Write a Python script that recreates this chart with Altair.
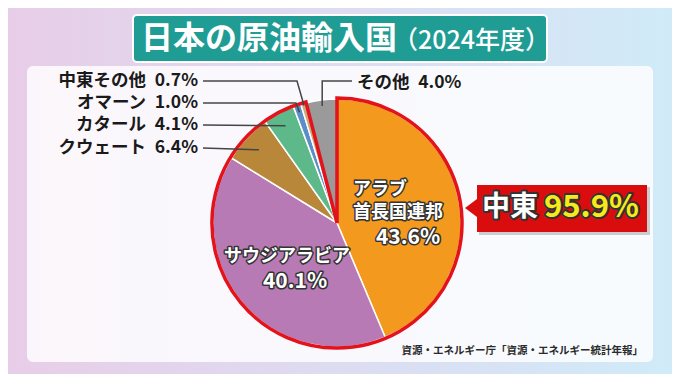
import math
import altair as alt
import pandas as pd

# ---------------- data ----------------
countries = ["アラブ首長国連邦", "サウジアラビア", "クウェート", "カタール", "オマーン", "中東その他", "その他"]
shares = [43.6, 40.1, 6.4, 4.1, 1.0, 0.7, 4.0]
slice_colors = ["#f39a1e", "#b87ab4", "#b8873a", "#5db98a", "#5b8ec8", "#c9aa7c", "#9a9a9a"]
region_label = "中東"
region_share = 95.9
title_main = "日本の原油輸入国"
title_sub = "（2024年度）"
source_text = "資源・エネルギー庁「資源・エネルギー統計年報」"

# ---------------- layout ----------------
W, H = 664, 366
OFF = 8
FONT = "Noto Sans CJK JP"
CXP, CYP, R = 337, 223, 124          # pie centre (page px) and radius
CX, CY = CXP - OFF, CYP - OFF
GAP = "\u2002"

total = sum(shares)
starts, acc = [], 0.0
for s in shares:
    starts.append(acc)
    acc += s
ends = [a + b for a, b in zip(starts, shares)]
mids = [a + b / 2 for a, b in zip(starts, shares)]


def polar(v, r):
    a = 2 * math.pi * v / total
    return (CXP + r * math.sin(a), CYP - r * math.cos(a))


def pct(v):
    return f"{v:.1f}%"


XS = dict(scale=None, axis=None)


def text_layer(rows, size, color, weight="bold", align="left", stroke=None, sw=0):
    df = pd.DataFrame([{"x": x - OFF, "y": y - OFF, "text": t} for x, y, t in rows])
    m = dict(font=FONT, fontSize=size, fontWeight=weight, align=align,
             baseline="middle", fill=color)
    if stroke:
        m.update(stroke=stroke, strokeWidth=sw, strokeJoin="round")
    return alt.Chart(df).mark_text(**m).encode(
        x=alt.X("x:Q", **XS), y=alt.Y("y:Q", **XS), text="text:N")


def rect_layer(x0, y0, x1, y1, **kw):
    return alt.Chart(pd.DataFrame({"a": [0]})).mark_rect(**kw).encode(
        x=alt.value(x0 - OFF), x2=alt.value(x1 - OFF),
        y=alt.value(y0 - OFF), y2=alt.value(y1 - OFF))


# ---------------- background ----------------
bg = rect_layer(OFF, OFF, W + OFF, H + OFF, fill=alt.LinearGradient(
    gradient="linear", x1=0, x2=1, y1=0, y2=0,
    stops=[alt.GradientStop(color="#e8cde8", offset=0),
           alt.GradientStop(color="#dddcf1", offset=0.5),
           alt.GradientStop(color="#d0ebf8", offset=1)]))
panel = rect_layer(27, 66, 653, 362, fill="white", opacity=0.82, cornerRadius=6)

# title banner
title_box = rect_layer(133, 15, 547, 62, fill="#1f9c94", stroke="white",
                       strokeWidth=2, cornerRadius=4)
title_t1 = text_layer([(141, 39, title_main)], 32, "white")
title_t2 = text_layer([(393, 41, title_sub)], 25, "white", weight=500)

# ---------------- pie ----------------
pie_df = pd.DataFrame({"country": countries, "share": shares, "start": starts,
                       "end": ends, "color": slice_colors})
theta_scale = alt.Scale(domain=[0, total], range=[0, 2 * math.pi])
pie = alt.Chart(pie_df).mark_arc(outerRadius=R, stroke="white", strokeWidth=1.5).encode(
    theta=alt.Theta("start:Q", scale=theta_scale, stack=None),
    theta2="end:Q",
    fill=alt.Fill("color:N", scale=None),
    x=alt.value(CX), y=alt.value(CY),
)

outline_df = pd.DataFrame({"start": [0.0], "end": [region_share]})
outline = alt.Chart(outline_df).mark_arc(
    outerRadius=R + 1, fillOpacity=0, stroke="#e3121b", strokeWidth=3.5,
    strokeJoin="miter").encode(
    theta=alt.Theta("start:Q", scale=theta_scale, stack=None),
    theta2="end:Q",
    x=alt.value(CX), y=alt.value(CY),
)

# ---------------- leader lines ----------------
line_specs = {
    5: [(203, 81), (297, 81), polar(mids[5], 122)],
    4: [(203, 103), (296, 103), polar(mids[4], 117)],
    3: [(203, 125), polar(mids[3], 110)],
    2: [(203, 148), polar(mids[2], 107)],
}
pe = polar(mids[6], 118)
line_specs[6] = [(352, 81), (pe[0], 81), pe]
lrows = []
for k, pts in line_specs.items():
    for j, (x, y) in enumerate(pts):
        lrows.append({"id": countries[k], "ord": j, "x": x - OFF, "y": y - OFF})
leaders = alt.Chart(pd.DataFrame(lrows)).mark_line(
    color="#454545", strokeWidth=1.5).encode(
    x=alt.X("x:Q", **XS), y=alt.Y("y:Q", **XS),
    detail="id:N", order="ord:Q")

# ---------------- labels ----------------
left_idx = [5, 4, 3, 2]
left_y = [81, 103, 125, 148]
left_labels = text_layer(
    [(198, y, f"{countries[i]}{GAP}{pct(shares[i])}") for i, y in zip(left_idx, left_y)],
    17.5, "#1a1a1a", align="right")
other_label = text_layer([(357, 83, f"{countries[6]}{GAP}{pct(shares[6])}")], 17.5, "#1a1a1a")

uae_name = countries[0]
inner_rows_small = [(353, 190, uae_name[:3]), (353, 213, uae_name[3:])]
inner_rows_center = [(287, 257, countries[1])]
inner_rows_big = [(408, 238, pct(shares[0])), (295, 282, pct(shares[1]))]
inner = [
    text_layer(inner_rows_small, 18, "#333", stroke="#333", sw=3),
    text_layer(inner_rows_center, 18, "#333", align="center", stroke="#333", sw=3),
    text_layer(inner_rows_big, 21, "#333", align="center", stroke="#333", sw=3),
    text_layer(inner_rows_small, 18, "white"),
    text_layer(inner_rows_center, 18, "white", align="center"),
    text_layer(inner_rows_big, 21, "white", align="center"),
]

# ---------------- callout ----------------
call_shadow = rect_layer(479, 187, 650, 235, fill="#000000", opacity=0.18)
call_box = rect_layer(477, 185, 647, 232, fill="#d90d0d")
pointer = alt.Chart(pd.DataFrame({"a": [0]})).mark_point(
    shape="M 1 -1.5 L -1 0 L 1 1.5 Z", size=144, filled=True, fill="#d90d0d",
    opacity=1, strokeWidth=0).encode(x=alt.value(471 - OFF), y=alt.value(208 - OFF))
call_t = [
    text_layer([(482, 208, region_label)], 28, "#333", stroke="#333", sw=4),
    text_layer([(544, 208, pct(region_share))], 31, "#333", stroke="#333", sw=4),
    text_layer([(482, 208, region_label)], 28, "white"),
    text_layer([(544, 208, pct(region_share))], 31, "#f7ea1a"),
]

source = text_layer([(643, 351, source_text)], 10.5, "#2a2a2a", weight="bold", align="right")

chart = alt.layer(
    bg, panel, title_box, title_t1, title_t2,
    pie, outline, leaders,
    left_labels, other_label,
    *inner,
    call_shadow, call_box, pointer, *call_t,
    source,
).properties(width=W, height=H, autosize="none", padding=0).configure_view(stroke=None)

chart.save("out.html", embed_options={"renderer": "svg", "actions": False})
